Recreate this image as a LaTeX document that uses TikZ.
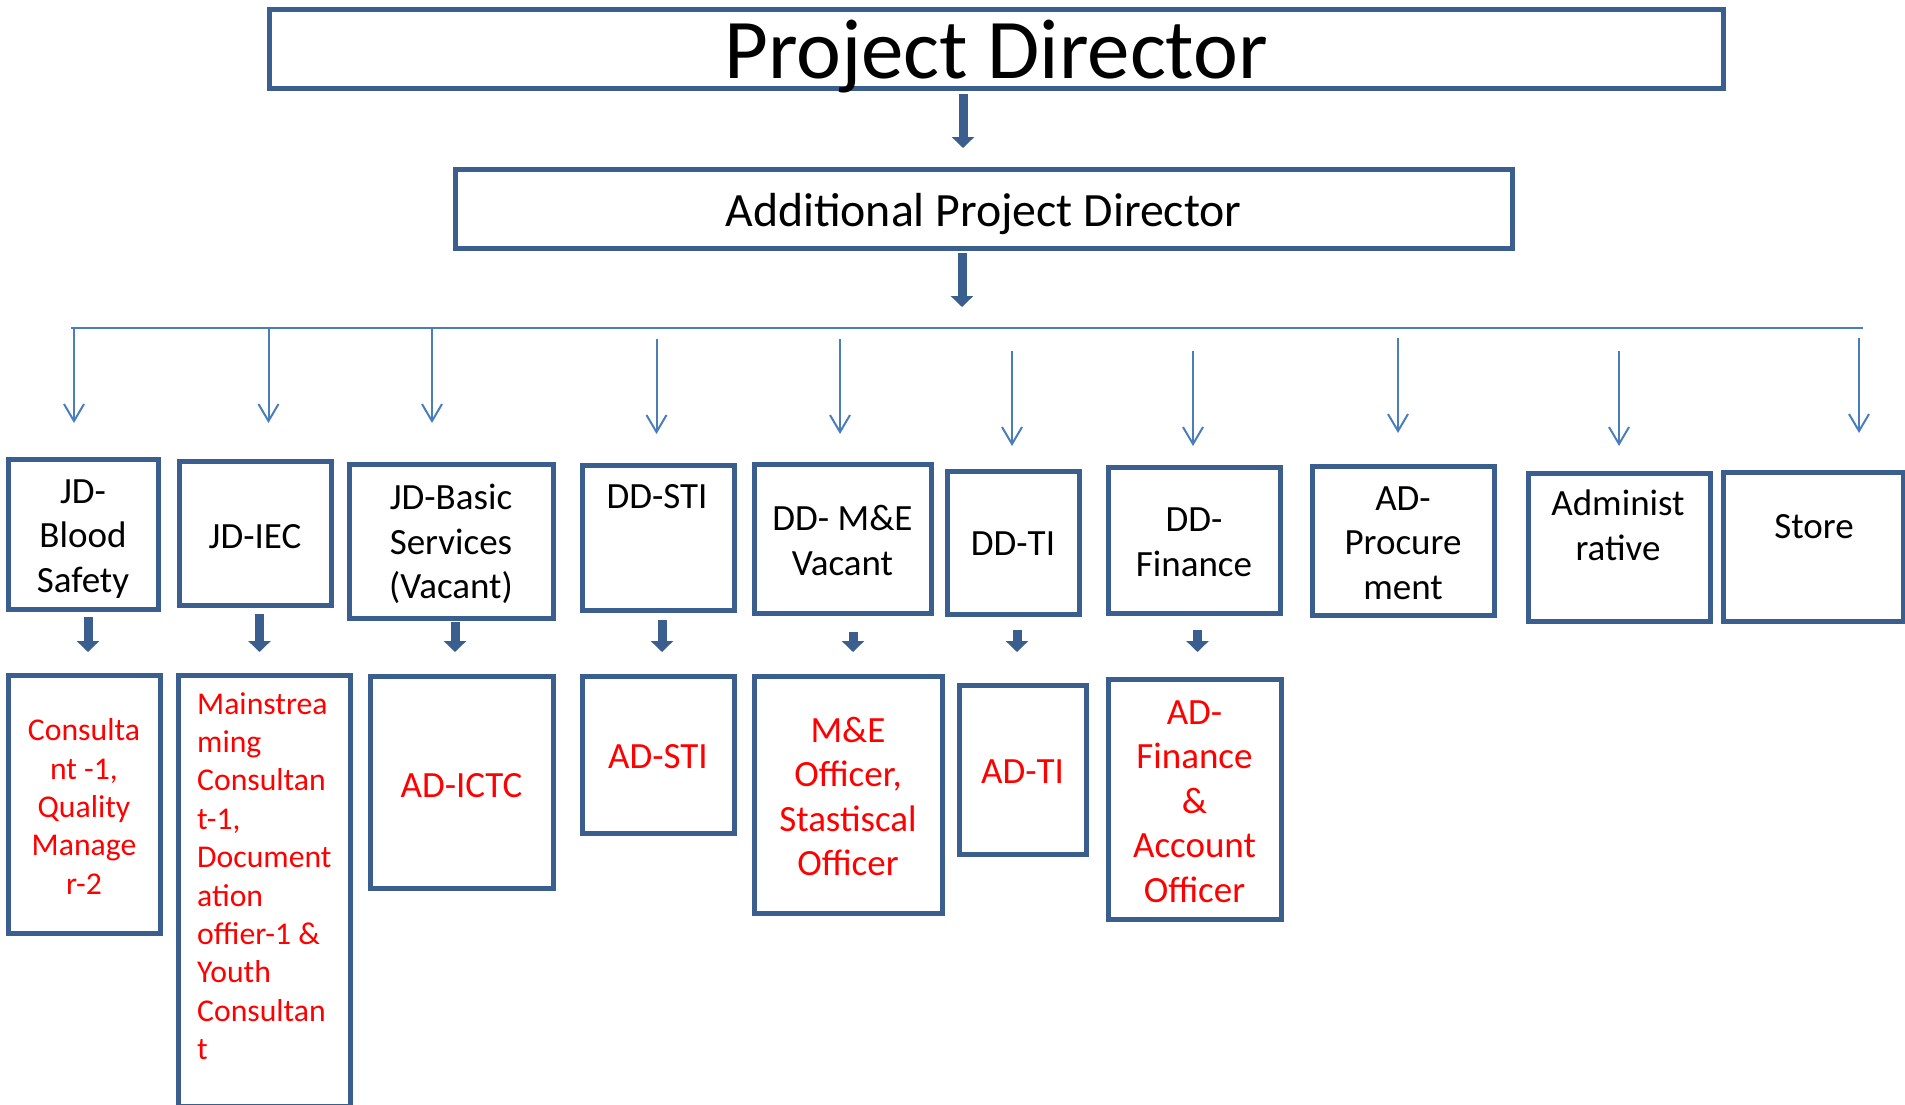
\documentclass[tikz,border=0pt]{standalone}
\usepackage{fontspec}
\setmainfont{Carlito}
\usetikzlibrary{arrows.meta}
\definecolor{boxblue}{HTML}{3A5F8E}
\definecolor{linkblue}{HTML}{4A7EBB}
\tikzset{
  box/.style={draw=boxblue, line width=5pt, rectangle, outer sep=0pt, inner sep=0pt},
  headtxt/.style={align=center, font=\fontsize{37}{44.6}\selectfont},
  redtxt/.style={align=center, text=red, font=\fontsize{37}{44.6}\selectfont},
  smalltxt/.style={align=center, text=red, font=\fontsize{31.7}{38.4}\selectfont},
  feeder/.style={draw=linkblue, line width=2pt, -{Straight Barb[length=17pt,width=20pt]}},
  bigarrow/.style={draw=boxblue, line width=9pt, -{Triangle[length=11pt,width=22pt]}},
}
\begin{document}
\begin{tikzpicture}[x=1pt,y=-1pt]
        \useasboundingbox (0,0) rectangle (1905,1104);
        % top of the chart
        \node[box, minimum width=1454, minimum height=79] (pd) at (996,48.5) {};
        \node[anchor=base, font=\fontsize{85}{100}\selectfont] (pd-l) at (996,78) {Project Director};
        \node[box, minimum width=1057, minimum height=79] (apd) at (983.5,208.5) {};
        \node[anchor=base, font=\fontsize{47.8}{57}\selectfont] (apd-l) at (983.5,226) {Additional Project Director};
        \coordinate (pd-out) at (963,94);
        \coordinate (apd-out) at (962,253);
        \coordinate (bus-w) at (71,328);
        \coordinate (bus-e) at (1863,328);
        \draw[bigarrow, shorten >=21] (pd-out) -- (pd-out |- apd.north);
        \draw[bigarrow, shorten >=21] (apd-out) -- (apd-out |- bus-w);
        \draw[linkblue, line width=2pt] (bus-w) -- (bus-e);
        % first row
        \node[box, minimum width=150, minimum height=150] (jdbs) at (83,534) {};
        \node[headtxt] (jdbs-l) at (83,539) {JD-\\Blood\\Safety};
        \node[box, minimum width=152, minimum height=144] (jdiec) at (255,533) {};
        \node[headtxt] (jdiec-l) at (255,537) {JD-IEC};
        \node[box, minimum width=204, minimum height=154] (jdbasic) at (451,541) {};
        \node[headtxt] (jdbasic-l) at (451,544) {JD-Basic\\Services\\(Vacant)};
        \node[box, minimum width=152, minimum height=145] (ddsti) at (658,537.5) {};
        \node[headtxt] (ddsti-l) at (657,497) {DD-STI};
        \node[box, minimum width=177, minimum height=149] (ddme) at (842.5,538.5) {};
        \node[headtxt] (ddme-l) at (842.5,540.5) {DD- M\&E\\Vacant};
        \node[box, minimum width=132, minimum height=143] (ddti) at (1013,542.5) {};
        \node[headtxt] (ddti-l) at (1013,543.5) {DD-TI};
        \node[box, minimum width=172, minimum height=146] (ddfin) at (1194,540) {};
        \node[headtxt] (ddfin-l) at (1194,542.5) {DD-\\Finance};
        \node[box, minimum width=182, minimum height=149] (adproc) at (1403,540.5) {};
        \node[headtxt] (adproc-l) at (1403,543) {AD-\\Procure\\ment};
        \node[box, minimum width=182, minimum height=148] (admin) at (1619,547) {};
        \node[headtxt] (admin-l) at (1618,525.5) {Administ\\rative};
        \node[box, minimum width=180, minimum height=149] (store) at (1813,546.5) {};
        \node[headtxt] (store-l) at (1814,527) {Store};
        % feeders from the bus
        \coordinate (f1) at (74,328);
        \coordinate (f2) at (268.5,328);
        \coordinate (f3) at (432,328);
        \coordinate (f4) at (656.5,339);
        \coordinate (f5) at (840,339);
        \coordinate (f6) at (1012,351);
        \coordinate (f7) at (1193,351);
        \coordinate (f8) at (1398,338);
        \coordinate (f9) at (1619,351);
        \coordinate (f10) at (1859,338);
        \draw[feeder, shorten >=36] (f1) -- (f1 |- jdbs.north);
        \draw[feeder, shorten >=38] (f2) -- (f2 |- jdiec.north);
        \draw[feeder, shorten >=41] (f3) -- (f3 |- jdbasic.north);
        \draw[feeder, shorten >=31] (f4) -- (f4 |- ddsti.north);
        \draw[feeder, shorten >=30] (f5) -- (f5 |- ddme.north);
        \draw[feeder, shorten >=25] (f6) -- (f6 |- ddti.north);
        \draw[feeder, shorten >=21] (f7) -- (f7 |- ddfin.north);
        \draw[feeder, shorten >=33] (f8) -- (f8 |- adproc.north);
        \draw[feeder, shorten >=27] (f9) -- (f9 |- admin.north);
        \draw[feeder, shorten >=39] (f10) -- (f10 |- store.north);
        % second row
        \node[box, minimum width=152, minimum height=258] (cons) at (84,804) {};
        \node[smalltxt] (cons-l) at (84,806.5) {Consulta\\nt -1,\\Quality\\Manage\\r-2};
        \node[box, minimum width=172, minimum height=431] (mains) at (264,890.5) {};
        \node[smalltxt, align=left, anchor=north west, inner sep=0pt] (mains-l) at (197,692) {Mainstrea\\ming\\Consultan\\t-1,\\Document\\ation\\offier-1 \&\\Youth\\Consultan\\t};
        \node[box, minimum width=183, minimum height=212] (adictc) at (461.5,782) {};
        \node[redtxt] (adictc-l) at (461.5,785.5) {AD-ICTC};
        \node[box, minimum width=152, minimum height=157] (adsti) at (658,754.5) {};
        \node[redtxt] (adsti-l) at (658,757) {AD-STI};
        \node[box, minimum width=188, minimum height=237] (meoff) at (848,794.5) {};
        \node[redtxt] (meoff-l) at (848,796.5) {M\&E\\Officer,\\Stastiscal\\Officer};
        \node[box, minimum width=127, minimum height=169] (adti) at (1022.5,769.5) {};
        \node[redtxt] (adti-l) at (1022.5,772) {AD-TI};
        \node[box, minimum width=173, minimum height=240] (adfin) at (1194.5,799) {};
        \node[redtxt] (adfin-l) at (1194.5,801.5) {AD-\\Finance\\\&\\Account\\Officer};
        % short arrows between the rows
        \coordinate (d1) at (88,617);
        \coordinate (d2) at (259.5,614);
        \coordinate (d3) at (455,622);
        \coordinate (d4) at (662,620);
        \coordinate (d5) at (853,632);
        \coordinate (d6) at (1017,630);
        \coordinate (d7) at (1197.5,630);
        \draw[bigarrow, shorten >=23] (d1) -- (d1 |- cons.north);
        \draw[bigarrow, shorten >=23] (d2) -- (d2 |- mains.north);
        \draw[bigarrow, shorten >=24] (d3) -- (d3 |- adictc.north);
        \draw[bigarrow, shorten >=24] (d4) -- (d4 |- adsti.north);
        \draw[bigarrow, shorten >=24] (d5) -- (d5 |- meoff.north);
        \draw[bigarrow, shorten >=33] (d6) -- (d6 |- adti.north);
        \draw[bigarrow, shorten >=27] (d7) -- (d7 |- adfin.north);
\end{tikzpicture}
\end{document}
